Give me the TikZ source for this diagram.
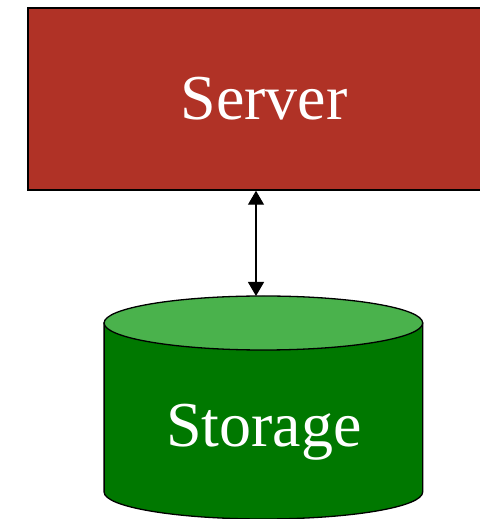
\documentclass[tikz,border=0pt]{standalone}
\usepackage{fontspec}
\setmainfont{Liberation Serif}
\usetikzlibrary{arrows.meta}
\definecolor{serverred}{RGB}{176,50,38}
\definecolor{disktop}{RGB}{74,178,76}
\definecolor{diskbody}{RGB}{0,120,0}
\tikzset{
  boxlabel/.style={text=white, font=\fontsize{64}{76}\selectfont},
  link/.style={line width=1.2pt, {Triangle[width=16pt,length=14pt]}-{Triangle[width=16pt,length=14pt]}},
  outline/.style={draw=black, line width=1.3pt}
}
\begin{document}
\begin{tikzpicture}[x=1pt,y=1pt]
\useasboundingbox (0,0) rectangle (479,519);
% server box, running off the right edge
\node[outline, line width=1.5pt, fill=serverred, minimum width=472pt, minimum height=182pt,
      inner sep=0pt, boxlabel] (server) at (264,420) {Server};
% storage cylinder
\coordinate (disktopc) at (263.4,196);
\coordinate (diskbotc) at (263.4,27);
\filldraw[outline, fill=diskbody]
  (104.1,196) -- (104.1,27) arc[start angle=180, end angle=360, x radius=159.3, y radius=27]
  -- (422.7,196) -- cycle;
\filldraw[outline, fill=disktop] (disktopc) ellipse[x radius=159.3, y radius=27];
\coordinate (diskrim) at (256,223);
\node[boxlabel, anchor=base] (storage) at (264,72) {Storage};
% link between server and storage
\draw[link] (server.south -| diskrim) -- (diskrim);
\end{tikzpicture}
\end{document}
